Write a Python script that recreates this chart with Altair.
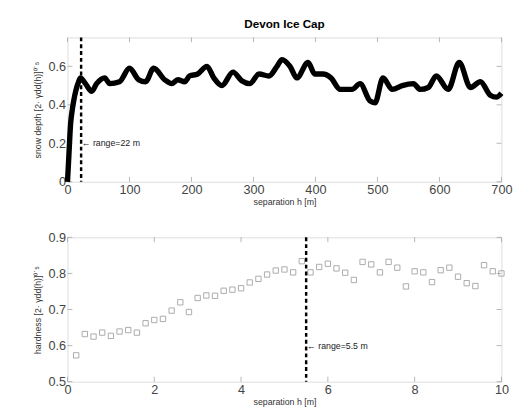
import altair as alt
import pandas as pd

# Top panel: snow depth semivariogram (separation h in m)
h_top = [0, 2, 5, 8, 10, 14, 18, 21, 29, 39, 47, 60, 68, 84, 100, 115, 126, 139, 157, 168, 178, 189, 197,
         210, 225, 236, 249, 267, 281, 294, 309, 325, 338, 346, 359, 370, 388, 399, 412, 425, 440, 459,
         472, 488, 496, 509, 524, 540, 558, 569, 582, 595, 614, 632, 650, 666, 682, 692, 700]
g_top = [0.0, 0.12, 0.30, 0.38, 0.42, 0.48, 0.52, 0.54, 0.51, 0.47, 0.51, 0.54, 0.51, 0.52, 0.59, 0.53,
         0.52, 0.59, 0.53, 0.51, 0.53, 0.52, 0.55, 0.56, 0.60, 0.54, 0.50, 0.57, 0.525, 0.51, 0.56, 0.55,
         0.60, 0.635, 0.60, 0.54, 0.62, 0.56, 0.56, 0.54, 0.48, 0.48, 0.51, 0.42, 0.41, 0.54, 0.48, 0.50,
         0.51, 0.48, 0.49, 0.55, 0.48, 0.62, 0.49, 0.52, 0.45, 0.44, 0.46]

# Bottom panel: hardness semivariogram
h_bot = [round(0.2 * i, 1) for i in range(1, 51)]
g_bot = [0.573, 0.632, 0.625, 0.636, 0.627, 0.639, 0.643, 0.636, 0.662, 0.671,
         0.674, 0.697, 0.720, 0.693, 0.732, 0.739, 0.738, 0.752, 0.755, 0.759,
         0.775, 0.785, 0.797, 0.808, 0.811, 0.803, 0.834, 0.803, 0.818, 0.827,
         0.814, 0.802, 0.782, 0.832, 0.825, 0.803, 0.832, 0.816, 0.764, 0.806,
         0.803, 0.776, 0.809, 0.816, 0.791, 0.773, 0.765, 0.823, 0.806, 0.800]

xticks_top = [0, 100, 200, 300, 400, 500, 600, 700]
yticks_top = [0, 0.2, 0.4, 0.6]
xticks_bot = [0, 2, 4, 6, 8, 10]
yticks_bot = [0.5, 0.6, 0.7, 0.8, 0.9]

range_top = 22
range_bot = 5.5
label_top = "\u2190 range=22 m"
label_bot = "\u2190 range=5.5 m"

df_top = pd.DataFrame({"h": h_top, "g": g_top})
df_bot = pd.DataFrame({"h": h_bot, "g": g_bot})

W, H = 445, 148
font = "Liberation Sans"
TICK = "#999"

def xaxis(vals):
    return alt.Axis(values=vals, title="separation h [m]", grid=False, ticks=False,
                    labelFontSize=13, labelColor="#444", titleFontSize=9, titleColor="#333",
                    titleFontWeight="normal", labelPadding=2, titlePadding=1, domain=False,
                    labelOverlap=False, labelFlush=False,
                    labelFont=font, titleFont=font)

def yaxis(vals, fmt, title):
    return alt.Axis(values=vals, format=fmt, title=title, grid=False, ticks=False,
                    labelFontSize=13, labelColor="#444", titleFontSize=9, titleColor="#333",
                    titleFontWeight="normal", labelPadding=2, titlePadding=6, domain=False,
                    labelOverlap=False, labelFlush=False,
                    labelFont=font, titleFont=font)

def inner_ticks(xvals, yvals, xs, ys, xa, ya):
    dx = pd.DataFrame({"v": xvals})
    dy = pd.DataFrame({"v": yvals})
    layers = []
    for yp in (H - 2.5, 2.5):
        layers.append(alt.Chart(dx).mark_tick(orient="vertical", size=5, thickness=1, color=TICK).encode(
            x=alt.X("v:Q", scale=xs, axis=xa), y=alt.value(yp)))
    for xp in (2.5, W - 2.5):
        layers.append(alt.Chart(dy).mark_tick(orient="horizontal", size=5, thickness=1, color=TICK).encode(
            y=alt.Y("v:Q", scale=ys, axis=ya), x=alt.value(xp)))
    return layers

xs_top = alt.Scale(domain=[0, 700], nice=False)
ys_top = alt.Scale(domain=[0, 0.75], nice=False)
xa_top = xaxis(xticks_top)
ya_top = yaxis(yticks_top, "~g", "snow depth [2\u00b7 \u03b3dd(h)]\u2070\u02d9\u2075")

line_top = alt.Chart(df_top).mark_line(color="black", strokeWidth=5.5, interpolate="monotone").encode(
    x=alt.X("h:Q", scale=xs_top, axis=xa_top),
    y=alt.Y("g:Q", scale=ys_top, axis=ya_top),
)
rule_top = alt.Chart(pd.DataFrame({"h": [range_top]})).mark_rule(
    color="black", strokeWidth=2.5, strokeDash=[4, 3]).encode(x=alt.X("h:Q", scale=xs_top, axis=xa_top))
text_top = alt.Chart(pd.DataFrame({"h": [range_top + 1], "g": [0.2], "t": [label_top]})).mark_text(
    align="left", baseline="middle", fontSize=9, font=font, color="#222").encode(
    x=alt.X("h:Q", scale=xs_top, axis=xa_top), y=alt.Y("g:Q", scale=ys_top, axis=ya_top), text="t:N")

top = alt.layer(*inner_ticks(xticks_top, yticks_top, xs_top, ys_top, xa_top, ya_top),
                line_top, rule_top, text_top).properties(
    width=W, height=H,
    title=alt.TitleParams("Devon Ice Cap", fontSize=12, font=font, fontWeight="bold", offset=5))

xs_bot = alt.Scale(domain=[0, 10], nice=False)
ys_bot = alt.Scale(domain=[0.5, 0.9], nice=False)
xa_bot = xaxis(xticks_bot)
ya_bot = yaxis(yticks_bot, ".1f", "hardness [2\u00b7 \u03b3dd(h)]\u2070\u02d9\u2075")

pts = alt.Chart(df_bot).mark_point(shape="square", filled=False, color="#888", size=30, strokeWidth=1).encode(
    x=alt.X("h:Q", scale=xs_bot, axis=xa_bot),
    y=alt.Y("g:Q", scale=ys_bot, axis=ya_bot),
)
rule_bot = alt.Chart(pd.DataFrame({"h": [range_bot]})).mark_rule(
    color="black", strokeWidth=2.5, strokeDash=[4, 3]).encode(x=alt.X("h:Q", scale=xs_bot, axis=xa_bot))
text_bot = alt.Chart(pd.DataFrame({"h": [range_bot + 0.02], "g": [0.6], "t": [label_bot]})).mark_text(
    align="left", baseline="middle", fontSize=9, font=font, color="#222").encode(
    x=alt.X("h:Q", scale=xs_bot, axis=xa_bot), y=alt.Y("g:Q", scale=ys_bot, axis=ya_bot), text="t:N")

bottom = alt.layer(*inner_ticks(xticks_bot, yticks_bot, xs_bot, ys_bot, xa_bot, ya_bot),
                   pts, rule_bot, text_bot).properties(width=W, height=H)

chart = alt.vconcat(top, bottom, spacing=24).properties(
    padding={"left": 25, "top": 5, "right": 5, "bottom": 5}
).configure_view(stroke="#999", strokeWidth=1).configure(background="white")

chart.save("out.html", embed_options={"renderer": "svg", "actions": False})
